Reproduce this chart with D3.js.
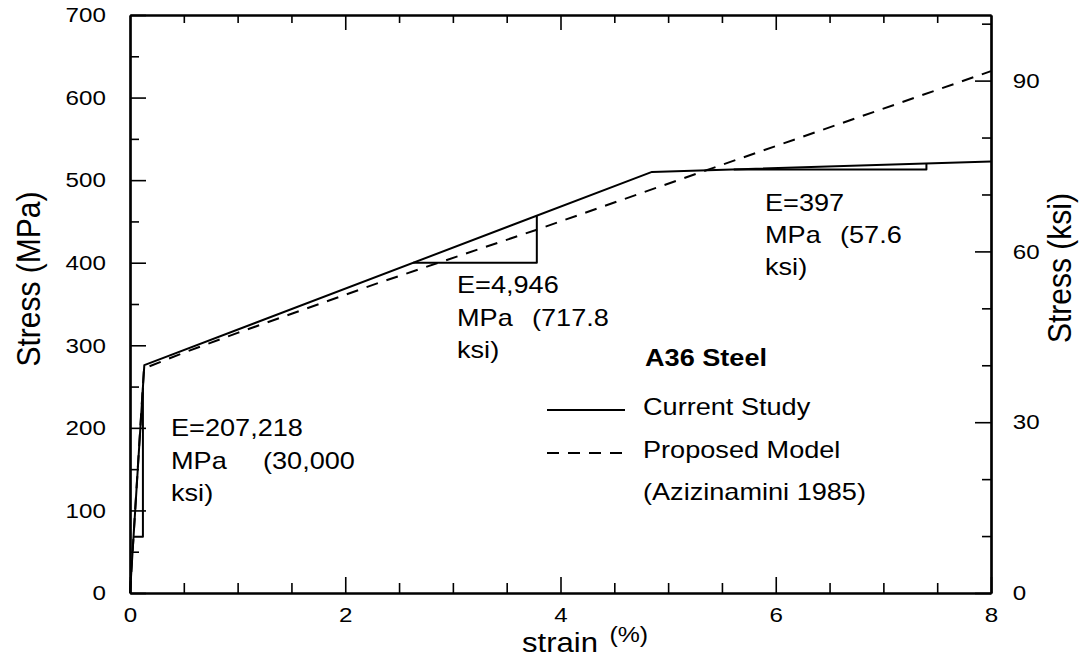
<!DOCTYPE html>
<html>
<head>
	<meta charset="utf-8">
	<title>A36 Steel</title>
	<style>
		body { margin: 0; background: #fff; }
		svg { font-family: "Liberation Sans", Arial, sans-serif; fill: #000; }
		.line { fill: none; stroke: #000; stroke-width: 2; stroke-linejoin: round; }
		.dash { stroke-dasharray: 12 9; }
		.axis path { stroke: #000; stroke-width: 2.2; }
		.axis line { stroke: #000; stroke-width: 1.6; }
		.axis text { font-family: "Liberation Sans", Arial, sans-serif; fill: #000; }
	</style>
</head>
<body>
	<svg id="container" width="1083" height="658"></svg>
</body>
<script src="https://d3js.org/d3.v7.min.js"></script>
<script>
	// current study (solid)
	let currentStrain = [0, 0.133, 4.85, 8]
	let currentStress = [0, 276, 510, 522.5]
	// proposed model, Azizinamini 1985 (dashed)
	let modelStrain = [0, 0.13, 0.5, 1.0, 2.32, 3.78, 5.4, 8]
	let modelStress = [0, 272, 291, 315, 376, 440, 514, 632]

	// slope triangles, [strain, stress]
	let triElastic = [[0.033, 68], [0.12, 68], [0.12, 249]]
	let triHarden = [[2.63, 400], [3.78, 400], [3.78, 457]]
	let triLast = [[5.61, 513], [7.40, 513], [7.40, 520]]

	let xMajor = [0, 2, 4, 6, 8]
	let xMinor = [0.5, 1, 1.5, 2.5, 3, 3.5, 4.5, 5, 5.5, 6.5, 7, 7.5]
	let mpaMajor = [0, 100, 200, 300, 400, 500, 600, 700]
	let mpaMinor = [50, 150, 250, 350, 450, 550, 650]
	let ksiMajor = [0, 30, 60, 90]
	let ksiMinor = [10, 20, 40, 50, 70, 80, 100]

	let svg = d3.select("#container")
	let SX = 1.13 // text in the original looks a bit wide

	let plotL = 130, plotR = 991, plotT = 15, plotB = 593
	let x = d3.scaleLinear().domain([0, 8]).range([plotL, plotR])
	let y = d3.scaleLinear().domain([0, 700]).range([plotB, plotT])
	let yKsi = d3.scaleLinear().domain([0, 700 / 6.895]).range([plotB, plotT])

	function drawAxis(axis, tx, ty) {
		return svg.append("g").attr("class", "axis")
			.attr("transform", `translate(${tx},${ty})`)
			.call(axis)
	}

	// ticks all point inward
	let gl = drawAxis(d3.axisLeft(y).tickValues(mpaMajor).tickSize(-16).tickSizeOuter(0).tickPadding(21), plotL, 0)
	drawAxis(d3.axisLeft(y).tickValues(mpaMinor).tickSize(-9).tickSizeOuter(0).tickFormat(""), plotL, 0)
	let gr = drawAxis(d3.axisRight(yKsi).tickValues(ksiMajor).tickSize(-16).tickSizeOuter(0).tickPadding(19), plotR, 0)
	drawAxis(d3.axisRight(yKsi).tickValues(ksiMinor).tickSize(-9).tickSizeOuter(0).tickFormat(""), plotR, 0)
	let gb = drawAxis(d3.axisBottom(x).tickValues(xMajor).tickSize(-16).tickSizeOuter(0).tickPadding(14), 0, plotB)
	drawAxis(d3.axisBottom(x).tickValues(xMinor).tickSize(-10).tickSizeOuter(0).tickFormat(""), 0, plotB)
	drawAxis(d3.axisTop(x).tickValues(xMajor.slice(1, 4)).tickSize(-15).tickSizeOuter(0).tickFormat(""), 0, plotT)
	drawAxis(d3.axisTop(x).tickValues(xMinor).tickSize(-8).tickSizeOuter(0).tickFormat(""), 0, plotT)

	;[gl, gr, gb].forEach(g => {
		g.selectAll("text")
			.attr("font-size", 21)
			.attr("transform", "scale(1.15,1)")
	})

	// curves
	let line = d3.line().x(d => x(d[0])).y(d => y(d[1]))
	let current = currentStrain.map((s, i) => [s, currentStress[i]])
	let model = modelStrain.map((s, i) => [s, modelStress[i]])

	svg.append("path").datum(model).attr("class", "line dash").attr("d", line)
	svg.append("path").datum(current).attr("class", "line").attr("d", line)

	;[triElastic, triHarden, triLast].forEach(t => {
		svg.append("path").datum(t).attr("class", "line").attr("d", line)
	})

	// text
	function label(str, tx, ty, size, weight) {
		return svg.append("text")
			.attr("transform", `translate(${tx},${ty}) scale(${SX},1)`)
			.attr("font-size", size)
			.attr("font-weight", weight || "normal")
			.text(str)
	}

	label("E=207,218", 171, 436, 24)
	label("MPa", 171, 469, 24)
	label("(30,000", 263, 469, 24)
	label("ksi)", 171, 501, 24)

	label("E=4,946", 457, 293, 24)
	label("MPa", 457, 326, 24)
	label("(717.8", 532, 326, 24)
	label("ksi)", 457, 358, 24)

	label("E=397", 765, 211, 24)
	label("MPa", 765, 243, 24)
	label("(57.6", 840, 243, 24)
	label("ksi)", 765, 275, 24)

	// legend
	label("A36 Steel", 645, 366, 24, "bold")
	svg.append("line").attr("class", "line")
		.attr("x1", 547).attr("x2", 625).attr("y1", 410).attr("y2", 410)
	label("Current Study", 643, 415, 24)
	svg.append("line").attr("class", "line dash")
		.attr("x1", 547).attr("x2", 625).attr("y1", 453).attr("y2", 453)
	label("Proposed Model", 643, 458, 24)
	label("(Azizinamini 1985)", 643, 500, 24)

	// axis titles
	let xt = label("strain", 522, 652, 27.5)
	xt.append("tspan").attr("font-size", 22).attr("dx", 4).attr("dy", -10).text(" (%)")

	svg.append("text")
		.attr("transform", `translate(40,279) scale(${SX},1) rotate(-90)`)
		.attr("text-anchor", "middle")
		.attr("font-size", 30)
		.text("Stress (MPa)")

	svg.append("text")
		.attr("transform", `translate(1071,268) scale(${SX},1) rotate(-90)`)
		.attr("text-anchor", "middle")
		.attr("font-size", 30)
		.text("Stress (ksi)")
</script>
</html>
